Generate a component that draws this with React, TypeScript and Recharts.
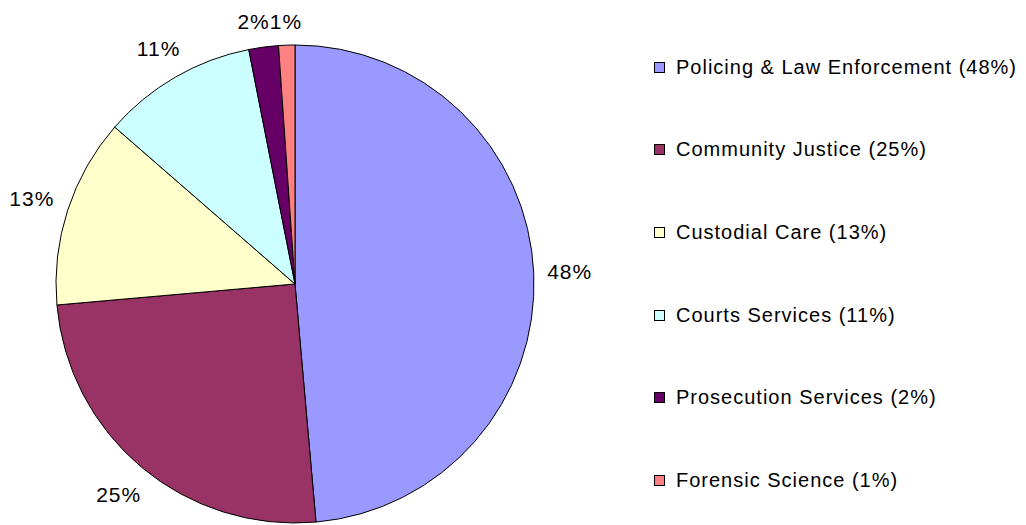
import React from "react";
import { PieChart, Pie, Cell, Legend } from "recharts";

const categories = [
  "Policing & Law Enforcement",
  "Community Justice",
  "Custodial Care",
  "Courts Services",
  "Prosecution Services",
  "Forensic Science",
];
const values = [48.6, 25.0, 12.8, 10.5, 2.0, 1.1];
const percentLabels = ["48%", "25%", "13%", "11%", "2%", "1%"];
const colors = ["#9999FF", "#993366", "#FFFFCC", "#CCFFFF", "#660066", "#FF8080"];

const data = categories.map((name, i) => ({
  name,
  value: values[i],
  label: percentLabels[i],
  color: colors[i],
}));

const FONT = "'Liberation Sans', Arial, sans-serif";
const RAD = Math.PI / 180;
const LABEL_FS = 21;
const LABEL_LS = 1;
const OUTER_R = 239;

const textWidth = (t: string) => {
  let w = 0;
  for (const ch of t) w += ch === "%" ? 0.889 : 0.556;
  return w * LABEL_FS + t.length * LABEL_LS;
};

// label box centers relative to pie centre, with simple collision push
const labelOffsets = (() => {
  const total = values.reduce((a, b) => a + b, 0);
  let cum = 0;
  const boxes = values.map((v, i) => {
    const mid = 90 - (360 * (cum + v / 2)) / total;
    cum += v;
    const w = textWidth(percentLabels[i]);
    const h = LABEL_FS;
    const c = Math.cos(-mid * RAD);
    const s = Math.sin(-mid * RAD);
    const d = 13 + Math.abs(c) * (w / 2) + Math.abs(s) * (h / 2);
    return { x: (OUTER_R + d) * c, y: (OUTER_R + d) * s, w, h };
  });
  for (let i = boxes.length - 1; i > 0; i--) {
    const a = boxes[i - 1];
    const b = boxes[i];
    const overlapX = a.x + a.w / 2 > b.x - b.w / 2 && a.x - a.w / 2 < b.x + b.w / 2;
    const overlapY = Math.abs(a.y - b.y) < (a.h + b.h) / 2;
    if (overlapX && overlapY && a.x < b.x) {
      a.x = b.x - b.w / 2 - a.w / 2;
    }
  }
  return boxes;
})();

const renderLabel = (props: any) => {
  const { cx, cy, index } = props;
  const o = labelOffsets[index];
  return (
    <text
      x={cx + o.x}
      y={cy + o.y}
      textAnchor="middle"
      dominantBaseline="central"
      fontFamily={FONT}
      fontSize={LABEL_FS}
      letterSpacing={LABEL_LS}
      fill="#000"
    >
      {percentLabels[index]}
    </text>
  );
};

const LegendContent = () => (
  <div style={{ fontFamily: FONT, fontSize: 20, letterSpacing: 1, color: "#000" }}>
    {data.map((d) => (
      <div
        key={d.name}
        style={{ height: 82.6, display: "flex", alignItems: "center", whiteSpace: "nowrap" }}
      >
        <span
          style={{
            display: "inline-block",
            width: 9,
            height: 9,
            border: "1px solid #000",
            background: d.color,
            marginRight: 11,
            flexShrink: 0,
          }}
        />
        <span>{`${d.name} (${d.label})`}</span>
      </div>
    ))}
  </div>
);

export default function App() {
  return (
    <div style={{ position: "absolute", left: 0, top: 0, width: 1026, height: 525, background: "#fff" }}>
      <PieChart width={1026} height={525} margin={{ top: 0, right: 0, bottom: 0, left: 0 }}>
        <Pie
          data={data}
          dataKey="value"
          nameKey="name"
          cx={295}
          cy={284}
          outerRadius={OUTER_R}
          startAngle={90}
          endAngle={-270}
          stroke="#000"
          strokeWidth={1}
          label={renderLabel}
          labelLine={false}
          isAnimationActive={false}
        >
          {data.map((d) => (
            <Cell key={d.name} fill={d.color} />
          ))}
        </Pie>
        <Legend
          content={<LegendContent />}
          wrapperStyle={{ position: "absolute", left: 654, top: 26, width: 372 }}
        />
      </PieChart>
    </div>
  );
}
